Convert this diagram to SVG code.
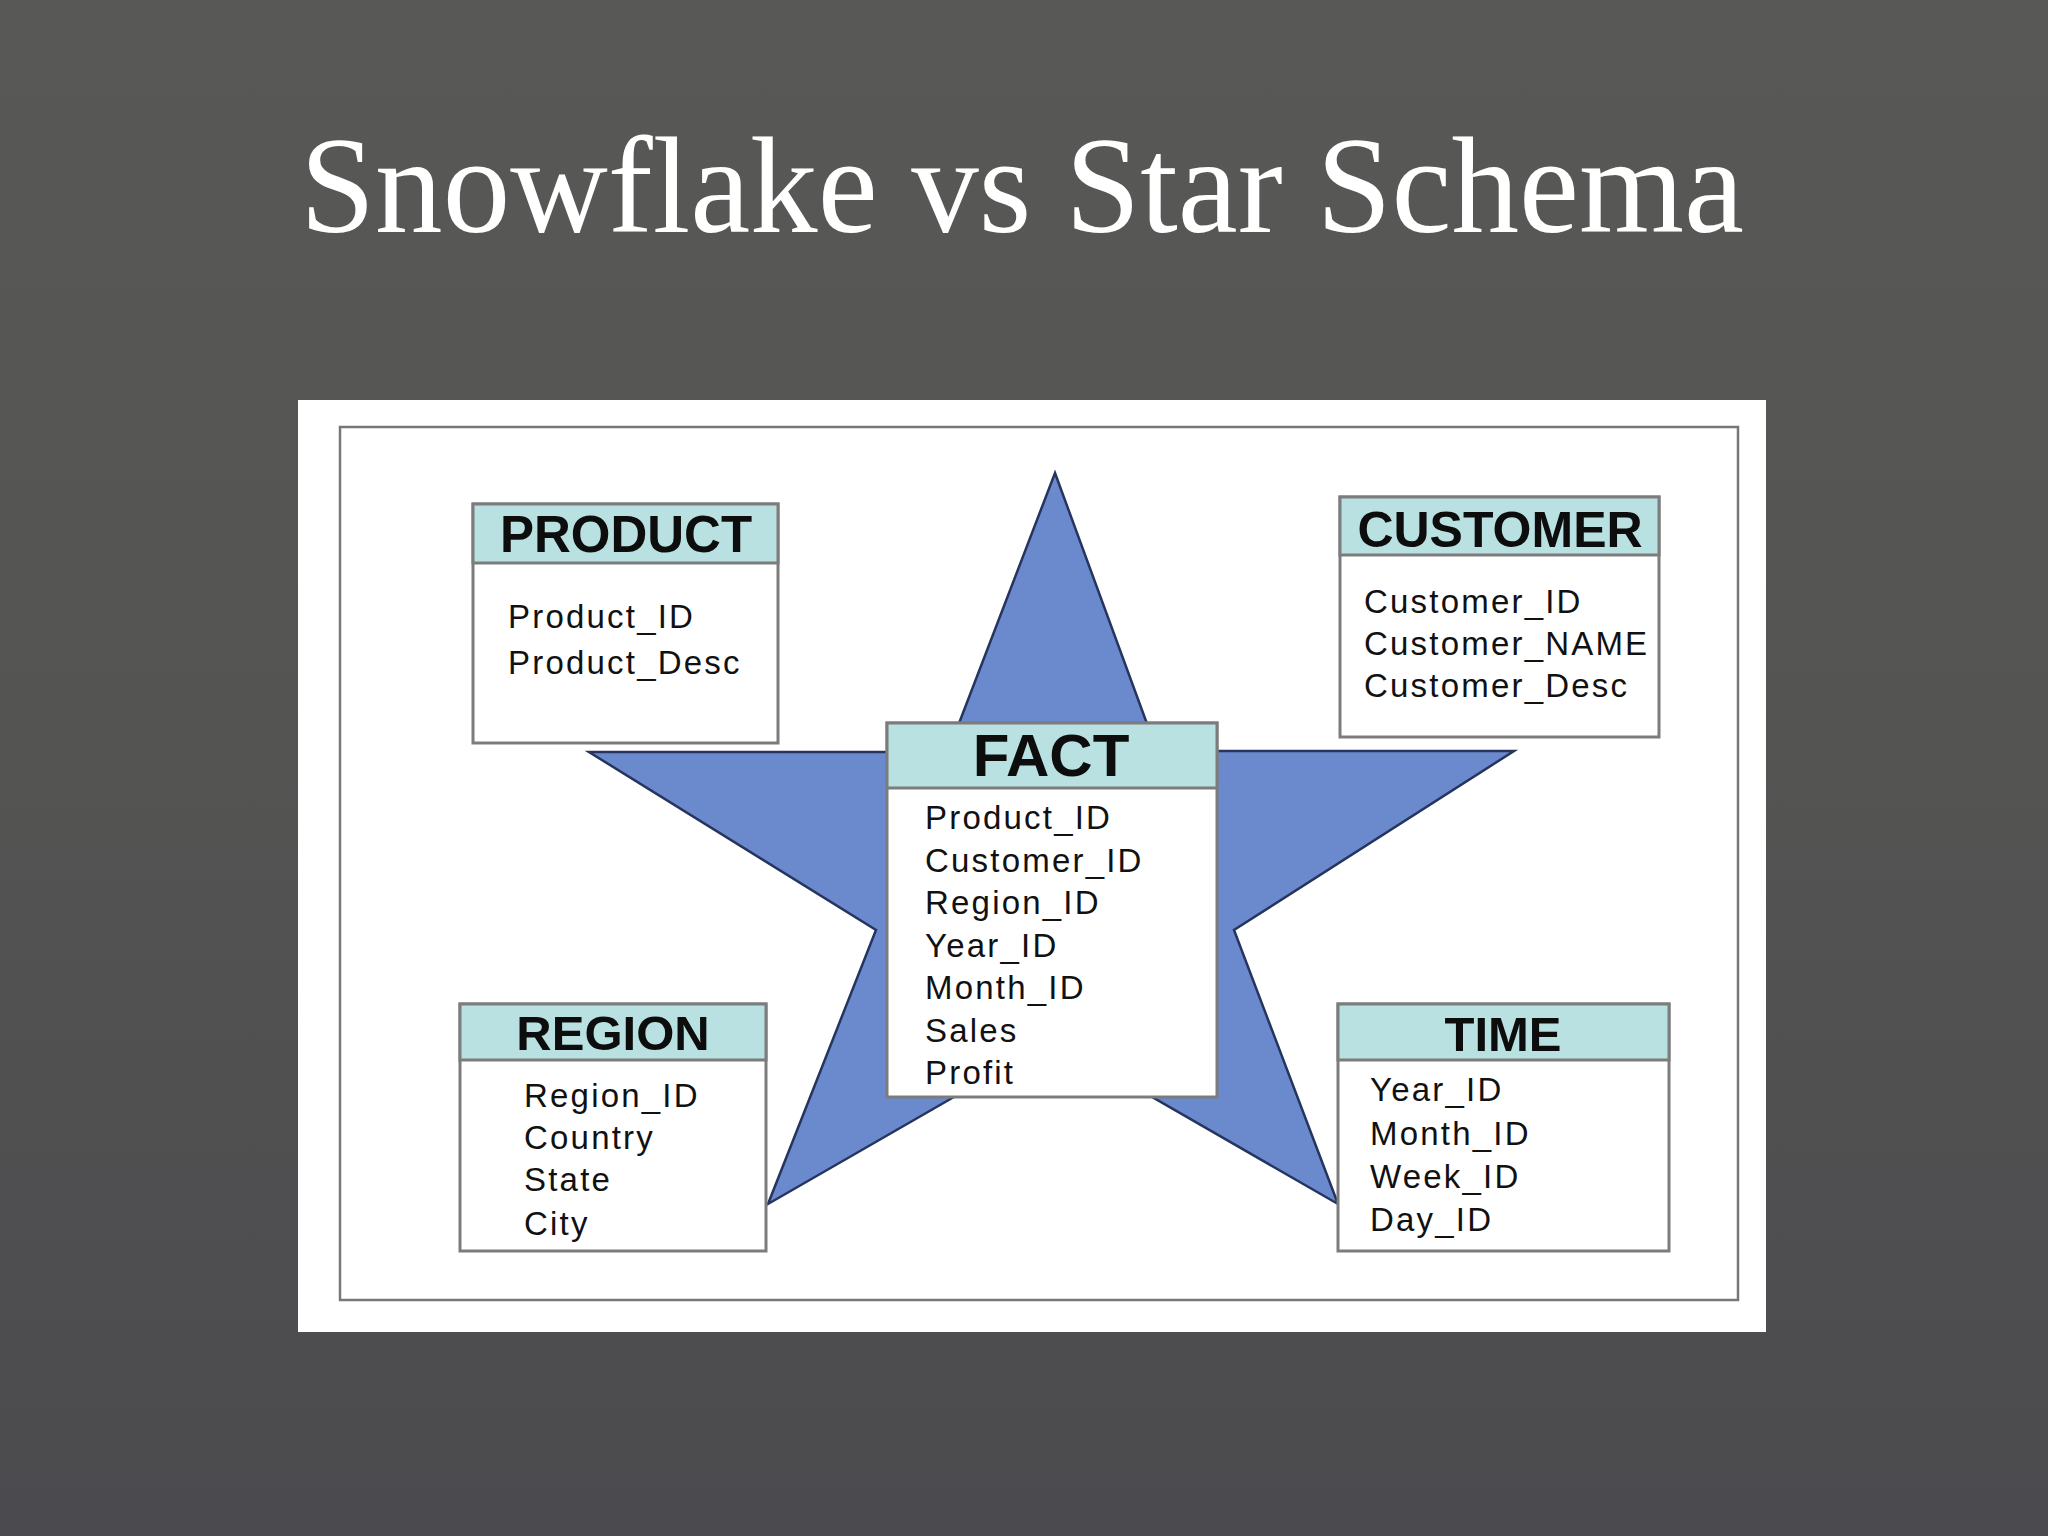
<svg xmlns="http://www.w3.org/2000/svg" width="2048" height="1536" viewBox="0 0 2048 1536">
<defs>
<linearGradient id="bg" x1="0" y1="0" x2="0" y2="1">
<stop offset="0" stop-color="#585957"/>
<stop offset="0.5" stop-color="#545453"/>
<stop offset="1" stop-color="#4b4a4e"/>
</linearGradient>
<style>
.title{font-family:"Liberation Serif","Times New Roman",serif;font-size:138px;fill:#ffffff}
.box{fill:#ffffff;stroke:#7c7c7c;stroke-width:3}
.hdr{fill:#b9e1e1;stroke:#7c7c7c;stroke-width:3}
.hname{font-family:"Liberation Sans",Arial,sans-serif;font-weight:bold;fill:#0d0d0d;text-anchor:middle}
.fld{font-family:"Liberation Sans",Arial,sans-serif;font-size:33px;fill:#111111;letter-spacing:2.2px}
</style>
</defs>
<rect x="0" y="0" width="2048" height="1536" fill="url(#bg)"/>
<text class="title" x="300" y="232" textLength="1444" lengthAdjust="spacingAndGlyphs">Snowflake vs Star Schema</text>
<rect x="298" y="400" width="1468" height="932" fill="#ffffff"/>
<rect x="340" y="427" width="1398" height="873" fill="none" stroke="#777777" stroke-width="2.5"/>
<g id="star">
<polygon points="1055,473 1157,751 1514,751 1234,930 1338,1204 1053,1040 768,1204 876,930 589,752 948,752" fill="#6b89cd" stroke="#26355e" stroke-width="2.5" stroke-linejoin="miter"/>
</g>
<g id="connectors"/>
<g id="product">
<rect class="box" x="473" y="504" width="305" height="239"/>
<rect class="hdr" x="473" y="504" width="305" height="59"/>
<text class="hname" x="626" y="552" font-size="51">PRODUCT</text>
<text class="fld" x="508" y="628">Product_ID</text>
<text class="fld" x="508" y="674">Product_Desc</text>
</g>
<g id="customer">
<rect class="box" x="1340" y="497" width="319" height="240"/>
<rect class="hdr" x="1340" y="497" width="319" height="58"/>
<text class="hname" x="1500" y="547" font-size="50">CUSTOMER</text>
<text class="fld" x="1364" y="613">Customer_ID</text>
<text class="fld" x="1364" y="655">Customer_NAME</text>
<text class="fld" x="1364" y="697">Customer_Desc</text>
</g>
<g id="fact">
<rect class="box" x="887" y="723" width="330" height="374"/>
<rect class="hdr" x="887" y="723" width="330" height="65"/>
<text class="hname" x="1051" y="776" font-size="60">FACT</text>
<text class="fld" x="925" y="829">Product_ID</text>
<text class="fld" x="925" y="871.5">Customer_ID</text>
<text class="fld" x="925" y="914">Region_ID</text>
<text class="fld" x="925" y="956.5">Year_ID</text>
<text class="fld" x="925" y="999">Month_ID</text>
<text class="fld" x="925" y="1041.5">Sales</text>
<text class="fld" x="925" y="1084">Profit</text>
</g>
<g id="region">
<rect class="box" x="460" y="1004" width="306" height="247"/>
<rect class="hdr" x="460" y="1004" width="306" height="56"/>
<text class="hname" x="613" y="1050" font-size="49">REGION</text>
<text class="fld" x="524" y="1107">Region_ID</text>
<text class="fld" x="524" y="1149">Country</text>
<text class="fld" x="524" y="1191">State</text>
<text class="fld" x="524" y="1235">City</text>
</g>
<g id="time">
<rect class="box" x="1338" y="1004" width="331" height="247"/>
<rect class="hdr" x="1338" y="1004" width="331" height="56"/>
<text class="hname" x="1503" y="1051" font-size="49">TIME</text>
<text class="fld" x="1370" y="1101">Year_ID</text>
<text class="fld" x="1370" y="1145">Month_ID</text>
<text class="fld" x="1370" y="1188">Week_ID</text>
<text class="fld" x="1370" y="1231">Day_ID</text>
</g>
</svg>
